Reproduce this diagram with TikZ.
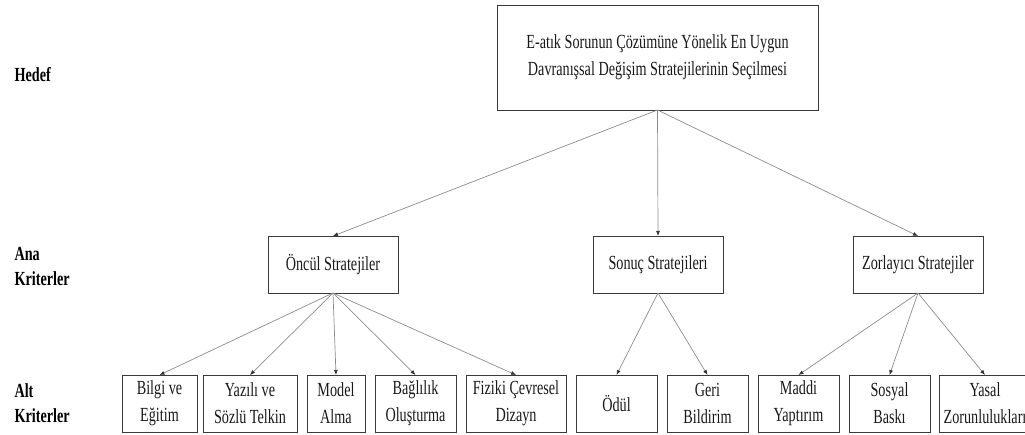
\documentclass[tikz,border=0pt]{standalone}
\usepackage{fontspec}
\setmainfont{Liberation Serif}[FakeStretch=0.71]
\usetikzlibrary{positioning,arrows.meta}
\definecolor{boxgray}{HTML}{3A3A3A}
\definecolor{linegray}{HTML}{8C8C8C}

\begin{document}
\begin{tikzpicture}[
    x=1pt, y=-1pt,
    node distance=10pt,
    box/.style={draw=boxgray, line width=0.9pt, align=center, inner sep=0pt, outer sep=0pt, font=\fontsize{20}{27}\selectfont, text=black!90},
    topbox/.style={box, minimum width=321pt, minimum height=105pt},
    anabox/.style={box, minimum width=130pt, minimum height=57pt},
    altbox/.style={box, minimum height=57pt},
    levellabel/.style={anchor=west, align=left, font=\bfseries\fontsize{20}{25}\selectfont},
    arrow/.style={draw=linegray, line width=0.7pt, -{Latex[length=5pt, width=4pt, color=black!80]}}
  ]
    \path[use as bounding box] (0,0) rectangle (1025,435);
    \clip (0,0) rectangle (1025,435);
    % levels
    \node[levellabel] (hedef) at (11,75) {Hedef};
    \node[levellabel] (ana) at (11,266) {Ana\\Kriterler};
    \node[levellabel] (alt) at (11,403) {Alt\\Kriterler};
    % goal and main criteria
    \node[topbox] (goal) at (657.5,57.5) {E-atık Sorunun Çözümüne Yönelik En Uygun\\Davranışsal Değişim Stratejilerinin Seçilmesi};
    \node[anabox] (oncul) at (333,264.5) {Öncül Stratejiler};
    \node[anabox, right=195pt of oncul] (sonuc) {Sonuç Stratejileri};
    \node[anabox, right=130pt of sonuc] (zorlayici) {Zorlayıcı Stratejiler};
    % sub criteria
    \node[altbox, minimum width=75pt] (bilgi) at (159.5,403.5) {Bilgi ve\\Eğitim};
    \node[altbox, minimum width=94pt, right=6pt of bilgi] (yazili) {Yazılı ve\\Sözlü Telkin};
    \node[altbox, minimum width=58pt, right=of yazili] (model) {Model\\Alma};
    \node[altbox, minimum width=81pt, right=of model] (baglilik) {Bağlılık\\Oluşturma};
    \node[altbox, minimum width=100pt, right=of baglilik] (fiziki) {Fiziki Çevresel\\Dizayn};
    \node[altbox, minimum width=81pt, right=of fiziki] (odul) {Ödül};
    \node[altbox, minimum width=81pt, right=of odul] (geri) {Geri\\Bildirim};
    \node[altbox, minimum width=81pt, right=of geri] (maddi) {Maddi\\Yaptırım};
    \node[altbox, minimum width=81pt, right=of maddi] (sosyal) {Sosyal\\Baskı};
    \node[altbox, minimum width=92pt, right=9pt of sosyal] (yasal) {Yasal\\Zorunlulukları};
    % connectors
    \foreach \child in {oncul,sonuc,zorlayici}
      \draw[arrow] (goal.south) -- (\child.north);
    \foreach \child in {bilgi,yazili,model,baglilik,fiziki}
      \draw[arrow] (oncul.south) -- (\child.north);
    \foreach \child in {odul,geri}
      \draw[arrow] (sonuc.south) -- (\child.north);
    \foreach \child in {maddi,sosyal,yasal}
      \draw[arrow] (zorlayici.south) -- (\child.north);
  \end{tikzpicture}
\end{document}
